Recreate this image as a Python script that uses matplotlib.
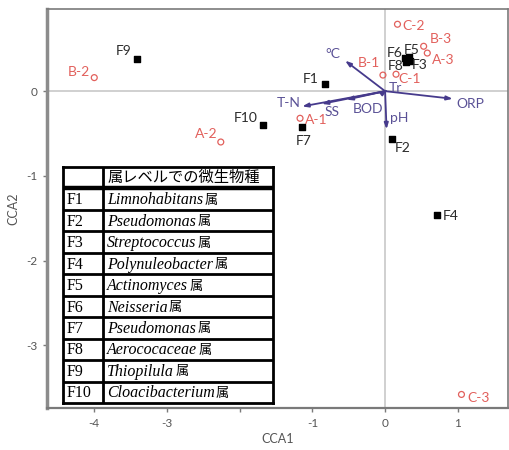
import matplotlib
matplotlib.use("Agg")
import matplotlib.pyplot as plt

# species scores (black squares)
species_ids = ['F1', 'F2', 'F3', 'F4', 'F5', 'F6', 'F7', 'F8', 'F9', 'F10']
species_x = [-0.83, 0.10, 0.34, 0.71, 0.33, 0.28, -1.14, 0.29, -3.41, -1.68]
species_y = [0.09, -0.57, 0.36, -1.46, 0.40, 0.39, -0.42, 0.35, 0.38, -0.40]

# site scores (red open circles)
site_ids = ['A-1', 'A-2', 'A-3', 'B-1', 'B-2', 'B-3', 'C-1', 'C-2', 'C-3']
site_x = [-1.17, -2.26, 0.58, -0.03, -4.00, 0.53, 0.15, 0.17, 1.05]
site_y = [-0.32, -0.60, 0.45, 0.19, 0.16, 0.53, 0.20, 0.79, -3.58]

# environmental vectors
env_ids = ['°C', 'T-N', 'SS', 'BOD', 'ORP', 'pH', 'Tr']
env_x = [-0.55, -1.14, -0.87, -0.53, 0.93, 0.02, 0.03]
env_y = [0.36, -0.18, -0.15, -0.10, -0.09, -0.45, 0.02]

x_ticks = [-4, -3, -2, -1, 0, 1]
x_tick_labels = ['-4', '-3', '', '-1', '0', '1']
y_ticks = [-3, -2, -1, 0]
y_tick_labels = ['-3', '-2', '-1', '0']

table_header = '属レベルでの微生物種'
genus_names = ['Limnohabitans', 'Pseudomonas', 'Streptococcus', 'Polynuleobacter',
               'Actinomyces', 'Neisseria', 'Pseudomonas', 'Aerococaceae',
               'Thiopilula', 'Cloacibacterium']

# label placement (offset pixels, ha)
sp_off = [(-6, 1, 'right'), (2, -13, 'left'), (2, -8, 'left'), (6, -5, 'left'),
          (-5, 3, 'left'), (-3, 1, 'right'), (1, -18, 'center'), (-3, -8, 'right'),
          (-6, 4, 'right'), (-5, 3, 'right')]
site_off = [(5, -6, 'left'), (-3, 4, 'right'), (5, -11, 'left'), (-3, 8, 'right'),
            (-4, 2, 'right'), (6, 3, 'left'), (2, -9, 'left'), (5, -6, 'left'),
            (6, -8, 'left')]
env_off = [(-5, 3, 'right'), (-2, -1, 'right'), (3, -12, 'left'), (6, -13, 'left'),
           (4, -9, 'left'), (3, 7, 'left'), (1, -3, 'left')]

RED = '#e2605c'
PURPLE = '#5a5196'
ARROW = '#463a8c'
GRAY = '#7a7a7a'
LABEL_FONT = ['Lato', 'DejaVu Sans']

fig = plt.figure(figsize=(5.09, 4.5), dpi=100)
ax = fig.add_axes([47 / 509, 1 - 408 / 450, 461 / 509, 399 / 450])
ax.set_xlim(-4.65, 1.69)
ax.set_ylim(-3.74, 0.97)

ax.axhline(0, color='#c8c8c8', lw=1.2, zorder=0)
ax.axvline(0, color='#c8c8c8', lw=1.2, zorder=0)

for s in ax.spines.values():
    s.set_color(GRAY)
    s.set_linewidth(1.2)
ax.spines['left'].set_linewidth(2.5)
ax.spines['left'].set_color('#8c8c8c')
ax.spines['bottom'].set_linewidth(1.6)

ax.set_xticks(x_ticks)
ax.set_xticklabels(x_tick_labels)
ax.set_yticks(y_ticks)
ax.set_yticklabels(y_tick_labels)
ax.tick_params(length=3, width=1, color=GRAY, labelcolor='#555555', labelsize=8.5, pad=4)
for lab in ax.get_xticklabels() + ax.get_yticklabels():
    lab.set_family(LABEL_FONT)
ax.set_xlabel('CCA1', fontsize=9, color='#555555', family=LABEL_FONT, labelpad=3)
ax.set_ylabel('CCA2', fontsize=9, color='#555555', family=LABEL_FONT, labelpad=5)

# arrows
for name, ex, ey, (dx, dy, ha) in zip(env_ids, env_x, env_y, env_off):
    ax.annotate('', xy=(ex, ey), xytext=(0, 0),
                arrowprops=dict(arrowstyle='-|>,head_length=0.35,head_width=0.12',
                                color=ARROW, lw=1.3, shrinkA=0, shrinkB=0))
    ax.annotate(name, xy=(ex, ey), xytext=(dx, dy), textcoords='offset pixels',
                ha=ha, va='baseline', fontsize=10, color=PURPLE, family=LABEL_FONT)

ax.scatter(species_x, species_y, marker='s', s=14, color='black', zorder=3)
for name, px, py, (dx, dy, ha) in zip(species_ids, species_x, species_y, sp_off):
    ax.annotate(name, xy=(px, py), xytext=(dx, dy), textcoords='offset pixels',
                ha=ha, va='baseline', fontsize=10, color='#2a2a2a', family=LABEL_FONT)

ax.scatter(site_x, site_y, marker='o', s=18, facecolor='none', edgecolor=RED,
           linewidth=0.9, zorder=3)
for name, px, py, (dx, dy, ha) in zip(site_ids, site_x, site_y, site_off):
    ax.annotate(name, xy=(px, py), xytext=(dx, dy), textcoords='offset pixels',
                ha=ha, va='baseline', fontsize=10, color=RED, family=LABEL_FONT)

# species table drawn on its own axes
tab = fig.add_axes([63 / 509, 1 - 403 / 450, 210 / 509, 236 / 450], zorder=5)
n_rows = len(genus_names) + 1
tab.set_xlim(0, 1)
tab.set_ylim(n_rows, 0)
tab.set_xticks([])
tab.set_yticks([])
for s in tab.spines.values():
    s.set_linewidth(2)
    s.set_color('black')
col_split = 40 / 210
tab.axvline(col_split, color='black', lw=2)
for r in range(1, n_rows):
    tab.axhline(r, color='black', lw=3.2 if r == 1 else 2)

serif = ['Liberation Serif', 'Noto Sans CJK JP']
tab.text(col_split + 0.02, 0.5, table_header, va='center', ha='left',
         fontsize=11, family=['Noto Sans CJK JP'])
for i, (fid, genus) in enumerate(zip(species_ids, genus_names)):
    yc = i + 1.55
    tab.text(0.015, yc, fid, va='center', ha='left', fontsize=11.5, family=serif)
    t = tab.text(col_split + 0.02, yc, genus, va='center', ha='left',
                 fontsize=11.5, family=serif, style='italic')
    tab.annotate('属', xy=(1, 0.5), xycoords=t, xytext=(1, 0),
                 textcoords='offset pixels', va='center', ha='left',
                 fontsize=9.5, family=['Noto Sans CJK JP'])

fig.savefig('out.png', dpi=100)
